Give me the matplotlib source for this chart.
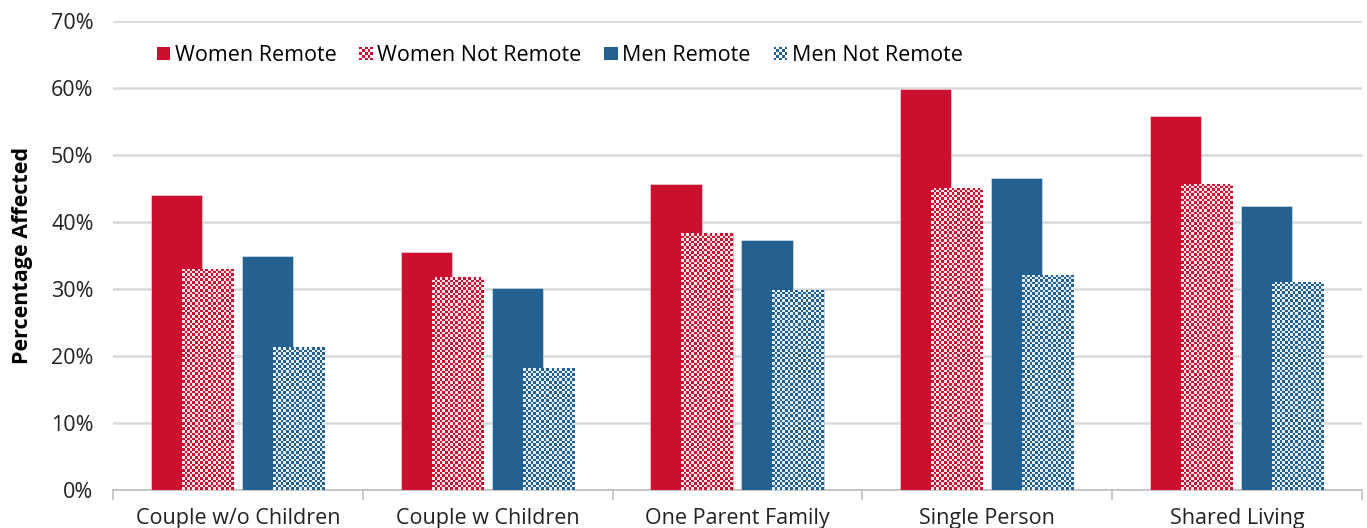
import matplotlib
matplotlib.use('Agg')
import matplotlib.pyplot as plt
import numpy as np
from matplotlib.patches import Rectangle
from matplotlib.legend_handler import HandlerBase

plt.rcParams['font.family'] = ['Open Sans', 'DejaVu Sans']

categories = ['Couple w/o Children', 'Couple w Children', 'One Parent Family', 'Single Person', 'Shared Living']
series = ['Women Remote', 'Women Not Remote', 'Men Remote', 'Men Not Remote']
women_remote = [44.0, 35.6, 45.7, 59.9, 55.9]
women_not_remote = [33.0, 31.8, 38.3, 45.1, 45.7]
men_remote = [35.0, 30.2, 37.3, 46.6, 42.4]
men_not_remote = [21.3, 18.2, 29.9, 32.1, 31.1]

red = '#CC0F2E'
blue = '#236192'
colors = [red, red, blue, blue]
checked = [False, True, False, True]
offsets = [-0.246, -0.122, 0.118, 0.242]
width = 0.205
fs = 15.5


def checker(color, light='#ffffff'):
    c = np.array(matplotlib.colors.to_rgb(color))
    l = np.array(matplotlib.colors.to_rgb(light))
    return c, l


fig = plt.figure(figsize=(13.67, 5.28), dpi=100)
ax = fig.add_axes([0.0827, 0.072, 0.9136, 0.888])

x = np.arange(len(categories))
values = [women_remote, women_not_remote, men_remote, men_not_remote]
ax.set_xlim(-0.5, len(categories) - 0.5)
ax.set_ylim(0, 70)

for vals, col, chk, off in zip(values, colors, checked, offsets):
    bars = ax.bar(x + off, vals, width, color=col, edgecolor=(1, 1, 1, 0.5), linewidth=0.6, zorder=3)
    if chk:
        fig.canvas.draw()
        for b in bars:
            x0, y0 = b.get_x(), b.get_y()
            w, h = b.get_width(), b.get_height()
            p0 = ax.transData.transform((x0, y0))
            p1 = ax.transData.transform((x0 + w, y0 + h))
            nx = max(1, int(round((p1[0] - p0[0]) / 2.6)))
            ny = max(1, int(round((p1[1] - p0[1]) / 2.6)))
            c, l = checker(col, '#f7e6ea' if col == red else '#e6eef5')
            grid = (np.add.outer(np.arange(ny), np.arange(nx)) % 2)[..., None]
            img = grid * c + (1 - grid) * l
            im = ax.imshow(img, extent=(x0, x0 + w, y0, y0 + h), aspect='auto',
                           interpolation='nearest', zorder=3.5, origin='lower')
            im.set_clip_path(b)

ax.set_aspect('auto')
ax.set_xlim(-0.5, len(categories) - 0.5)
ax.set_ylim(0, 70)

ax.set_yticks(np.arange(0, 71, 10))
ax.set_yticklabels([f'{v}%' for v in range(0, 71, 10)], fontsize=fs, color='#222222')
ax.tick_params(axis='y', length=0, pad=14)
ax.grid(axis='y', color='#d9d9d9', linewidth=1.8, zorder=0)

ax.set_xticks(np.arange(-0.5, len(categories), 1.0))
ax.set_xticklabels([])
ax.tick_params(axis='x', which='major', length=7, color='#bfbfbf', width=1.2)
ax.set_xticks(x, minor=True)
ax.set_xticklabels(categories, minor=True, fontsize=fs, color='#222222')
ax.tick_params(axis='x', which='minor', length=0, pad=13)

for s in ['top', 'right', 'left']:
    ax.spines[s].set_visible(False)
ax.spines['bottom'].set_color('#bfbfbf')
ax.spines['bottom'].set_linewidth(1.2)

ax.set_ylabel('Percentage Affected', fontsize=15.5, fontweight='bold', labelpad=13)


class CheckHandler(HandlerBase):
    def __init__(self, color, check):
        super().__init__()
        self.color = color
        self.check = check

    def create_artists(self, legend, orig_handle, xdescent, ydescent, width, height, fontsize, trans):
        s = height * 1.0
        x0 = -xdescent + (width - s)
        y0 = -ydescent
        if not self.check:
            return [Rectangle((x0, y0), s, s, facecolor=self.color, edgecolor='none', transform=trans)]
        arts = [Rectangle((x0, y0), s, s, facecolor='white', edgecolor='none', transform=trans)]
        n = 5
        d = s / n
        for i in range(n):
            for j in range(n):
                if (i + j) % 2 == 0:
                    arts.append(Rectangle((x0 + i * d, y0 + j * d), d, d, facecolor=self.color,
                                          edgecolor='none', transform=trans))
        return arts


handles = [Rectangle((0, 0), 1, 1) for _ in series]
handler_map = {h: CheckHandler(c, k) for h, c, k in zip(handles, colors, checked)}
ax.legend(handles, series, handler_map=handler_map, loc='upper left', bbox_to_anchor=(0.02, 0.99),
          ncol=4, frameon=False, fontsize=fs, handlelength=0.6, handleheight=0.6,
          handletextpad=0.2, columnspacing=1.1)

fig.savefig('out.png', dpi=100)
